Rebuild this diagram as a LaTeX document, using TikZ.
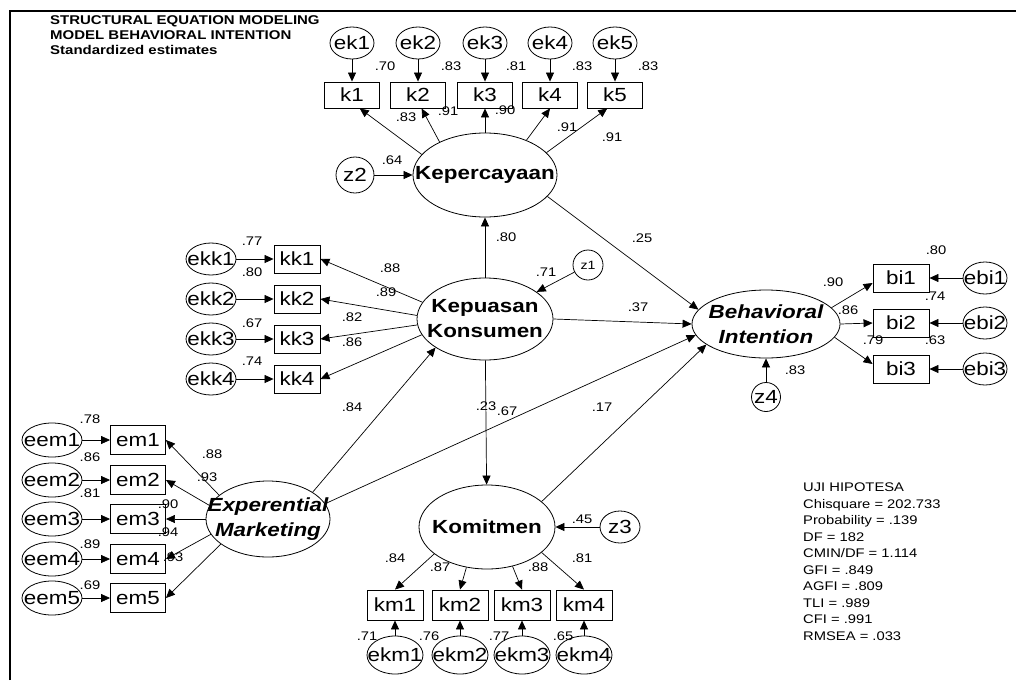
\documentclass[tikz,border=0pt]{standalone}
\usepackage{fontspec}
\setmainfont{Liberation Sans}[FakeStretch=1.18]
\usetikzlibrary{shapes.geometric,arrows.meta}
\newcommand\lblfont{\fontsize{12.5}{14}\selectfont}
\newcommand\obsfont{\fontsize{19}{21}\selectfont}
\newcommand\smallzfont{\fontsize{12}{14}\selectfont}
\newcommand\latfont{\bfseries\fontsize{19}{25}\selectfont}
\newcommand\titfont{\bfseries\fontsize{12.7}{15}\selectfont}
\newcommand\fitfont{\fontsize{12.5}{15}\selectfont}
\newcommand\zw[1]{\makebox[0pt]{#1}}
\tikzset{
  lat/.style={ellipse, draw, line width=0.8pt, inner sep=0pt, font=\latfont, align=center},
  err/.style={ellipse, draw, line width=0.8pt, inner sep=0pt, font=\obsfont},
  obs/.style={rectangle, draw, line width=0.9pt, inner sep=0pt, font=\obsfont},
  lbl/.style={inner sep=0pt, font=\lblfont},
  pth/.style={-{Triangle[length=9pt,width=8pt]}, line width=0.7pt},
}
\begin{document}
\begin{tikzpicture}[x=1pt,y=-1pt]
\useasboundingbox (0,0) rectangle (1016,680);
% frame
\coordinate (fa) at (10,680);
\coordinate (fb) at (10,11);
\coordinate (fc) at (1016,11);
\draw[line width=2pt] (fa) -- (fb) -- (fc);
% title
\node[anchor=base west, inner sep=0pt, font=\titfont] (t1) at (50,24) {STRUCTURAL EQUATION MODELING};
\node[anchor=base west, inner sep=0pt, font=\titfont] (t2) at (50,39) {MODEL BEHAVIORAL INTENTION};
\node[anchor=base west, inner sep=0pt, font=\titfont] (t3) at (50,54.5) {Standardized estimates};
% latent variables
\node[lat, minimum width=144, minimum height=84] (KC) at (485,175) {\zw{Kepercayaan}};
\node[lat, minimum width=136, minimum height=82] (KP) at (485,319) {\zw{Kepuasan}\\\zw{Konsumen}};
\node[lat, minimum width=148, minimum height=68, font=\latfont\itshape] (BI) at (766,324) {\zw{Behavioral}\\\zw{Intention}};
\node[lat, minimum width=124, minimum height=76, font=\latfont\itshape] (EM) at (268,519) {\zw{Experential}\\\zw{Marketing}};
\node[lat, minimum width=136, minimum height=84] (KM) at (487,527) {\zw{Komitmen}};
% disturbances
\node[err, minimum width=38, minimum height=36] (z2) at (355,175) {\zw{z2}};
\node[err, minimum width=30, minimum height=30, font=\smallzfont] (z1) at (588,265) {\zw{z1}};
\node[err, minimum width=40, minimum height=32] (z3) at (620,527) {\zw{z3}};
\node[err, minimum width=29, minimum height=29] (z4) at (766,397) {\zw{z4}};
% Kepercayaan indicators
\foreach \i/\x in {1/352,2/418,3/485,4/550,5/615}{
  \node[obs, minimum width=55, minimum height=26] (k\i) at (\x,95) {k\i};
  \node[err, minimum width=44, minimum height=32] (ek\i) at (\x,43) {\zw{ek\i}};
  \draw[pth] (ek\i) -- (k\i);
}
% Kepuasan indicators
\foreach \i/\y in {1/259,2/299,3/339,4/379}{
  \node[obs, minimum width=46, minimum height=28] (kk\i) at (297,\y) {kk\i};
  \node[err, minimum width=50, minimum height=32] (ekk\i) at (211,\y) {\zw{ekk\i}};
  \draw[pth] (ekk\i) -- (kk\i);
}
% Experential marketing indicators
\foreach \i/\y in {1/440,2/480,3/519,4/559,5/598}{
  \node[obs, minimum width=55, minimum height=29] (em\i) at (138,\y) {em\i};
  \node[err, minimum width=60, minimum height=34] (eem\i) at (52,\y) {\zw{eem\i}};
  \draw[pth] (eem\i) -- (em\i);
}
% Komitmen indicators
\foreach \i/\x in {1/395,2/460,3/522,4/584}{
  \node[obs, minimum width=56, minimum height=30] (km\i) at (\x,605) {km\i};
  \node[err, minimum width=56, minimum height=38] (ekm\i) at (\x,655) {\zw{ekm\i}};
  \draw[pth] (ekm\i) -- (km\i);
}
% Behavioral intention indicators
\foreach \i/\y in {1/278,2/323,3/369}{
  \node[obs, minimum width=56, minimum height=28] (bi\i) at (901,\y) {bi\i};
  \node[err, minimum width=44, minimum height=32] (ebi\i) at (985,\y) {\zw{ebi\i}};
  \draw[pth] (ebi\i) -- (bi\i);
}
% loadings
\draw[pth] (KC.162) -- (k1.-60);
\draw[pth] (KC.144) -- (k2.-75);
\draw[pth] (KC.north) -- (k3.south);
\draw[pth] (KC.40) -- (k4.south);
\draw[pth] (KC.20) -- (k5.-120);
\draw[pth] (KP.165) -- (kk1.east);
\draw[pth] (KP.177) -- (kk2.east);
\draw[pth] (KP.185) -- (kk3.east);
\draw[pth] (KP.194) -- (kk4.east);
\draw[pth] (EM.154) -- (em1.east);
\draw[pth] (EM.167) -- (em2.east);
\draw[pth] (EM.180) -- (em3.east);
\draw[pth] (EM.195) -- (em4.east);
\draw[pth] (EM.208) -- (em5.east);
\draw[pth] (KM.207) -- (km1.north);
\draw[pth] (KM.243) -- (km2.north);
\draw[pth] (KM.303) -- (km3.north);
\draw[pth] (KM.335) -- (km4.north);
\draw[pth] (BI.14) -- (bi1.190);
\draw[pth] (BI.east) -- (bi2.west);
\draw[pth] (BI.-11) -- (bi3.170);
% structural paths
\draw[pth] (z2) -- (KC);
\draw[pth] (z1) -- (KP);
\draw[pth] (z3) -- (KM);
\draw[pth] (z4) -- (BI);
\draw[pth] (KP) -- (KC);
\draw[pth] (KP) -- (KM);
\draw[pth] (KC.-19) -- (BI.168);
\draw[pth] (KP.east) -- (BI.west);
\draw[pth] (EM.31) -- (KP.210);
\draw[pth] (EM.15) -- (BI.189);
\draw[pth] (KM.25) -- (BI.199);
% estimates
\foreach \x/\y/\t [count=\n] in {
 385/66/.70, 451/66/.83, 516/66/.81, 582/66/.83, 648/66/.83,
 406/117/.83, 448/111/.91, 505/110/.90, 567/127/.91, 612/137/.91,
 392/160/.64,
 506/237/.80, 642/238/.25, 546/272/.71, 638/307/.37,
 252/241/.77, 252/272/.80, 252/323/.67, 252/361/.74,
 390/268/.88, 386/292/.89, 352/317/.82, 352/342/.86,
 90/419/.78, 90/457/.86, 90/493/.81, 168/504/.90, 168/532/.94, 90/544/.89, 173/557/.93, 90/585/.69,
 212/454/.88, 207/477/.93,
 352/407/.84,
 486/406/.23, 507/411/.67, 602/407/.17, 582/519/.45,
 395/558/.84, 440/567/.87, 538/567/.88, 582/558/.81,
 367/636/.71, 429/636/.76, 499/636/.77, 563/636/.65,
 936/250/.80, 833/282/.90, 935/296/.74, 848/310/.86, 873/340/.79, 935/340/.63, 795/370/.83}
 { \node[lbl] (lab\n) at (\x,\y) {\t}; }
% fit statistics
\foreach \t [count=\n] in {UJI HIPOTESA, Chisquare = 202.733, Probability = .139, DF = 182, CMIN/DF = 1.114, GFI = .849, AGFI = .809, TLI = .989, CFI = .991, RMSEA = .033}
 { \node[anchor=base west, inner sep=0pt, font=\fitfont] (fit\n) at (803,{475+16.5*\n}) {\t}; }
\end{tikzpicture}
\end{document}
